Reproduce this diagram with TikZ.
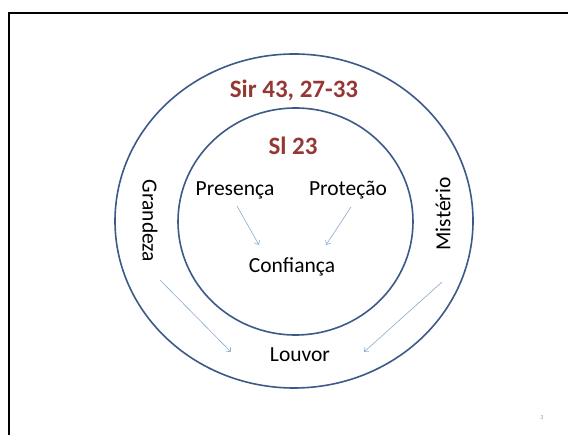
\documentclass[tikz,border=0pt]{standalone}
\usepackage{fontspec}
\setmainfont{Carlito}
\usetikzlibrary{arrows.meta}
\definecolor{ring}{RGB}{60,90,135}
\definecolor{titlered}{RGB}{149,55,53}
\definecolor{arrowc}{RGB}{140,170,205}
\definecolor{pagegray}{RGB}{150,150,150}
\tikzset{
  ringline/.style={draw=ring, line width=1.6pt},
  titletext/.style={text=titlered, font=\fontsize{25}{29}\selectfont\bfseries, inner sep=0pt},
  lbl/.style={text=black, font=\fontsize{21.5}{25}\selectfont, inner sep=0pt},
  thinarrow/.style={draw=arrowc, line width=0.6pt, -{Straight Barb[length=3.5pt,width=6pt]}}
}
\begin{document}
\begin{tikzpicture}[x=1pt,y=-1pt]
\useasboundingbox (0,0) rectangle (568,435);
\fill[white] (0,0) rectangle (568,435);
% slide frame
\draw[line width=2pt] (8.5,435) -- (8.5,13.5) -- (568,13.5);
% rings
\draw[ringline] (294,221) ellipse [x radius=179, y radius=167];
\draw[ringline] (295.5,221.5) ellipse [x radius=117.5, y radius=113.5];
% texts
\node[titletext] (sir) at (294,90) {Sir 43, 27-33};
\node[titletext] (sl) at (293,146) {Sl 23};
\node[lbl] (pres) at (235,190) {Presença};
\node[lbl] (prot) at (348,190) {Proteção};
\node[lbl] (conf) at (292,267) {Confiança};
\node[lbl] (louv) at (300,355) {Louvor};
\node[lbl, rotate=-90] (gran) at (150,221) {Grandeza};
\node[lbl, rotate=90] (mist) at (443,214) {Mistério};
\node[text=pagegray, font=\fontsize{6}{7}\selectfont, inner sep=0pt] (pg) at (542,418) {3};
% arrow endpoints
\coordinate (a1s) at (237,206); \coordinate (a1e) at (259,245);
\coordinate (a2s) at (351,207); \coordinate (a2e) at (326,245);
\coordinate (a3s) at (160,280); \coordinate (a3e) at (231,352);
\coordinate (a4s) at (442,282); \coordinate (a4e) at (364,352);
\draw[thinarrow] (a1s) -- (a1e);
\draw[thinarrow] (a2s) -- (a2e);
\draw[thinarrow] (a3s) -- (a3e);
\draw[thinarrow] (a4s) -- (a4e);
\end{tikzpicture}
\end{document}
